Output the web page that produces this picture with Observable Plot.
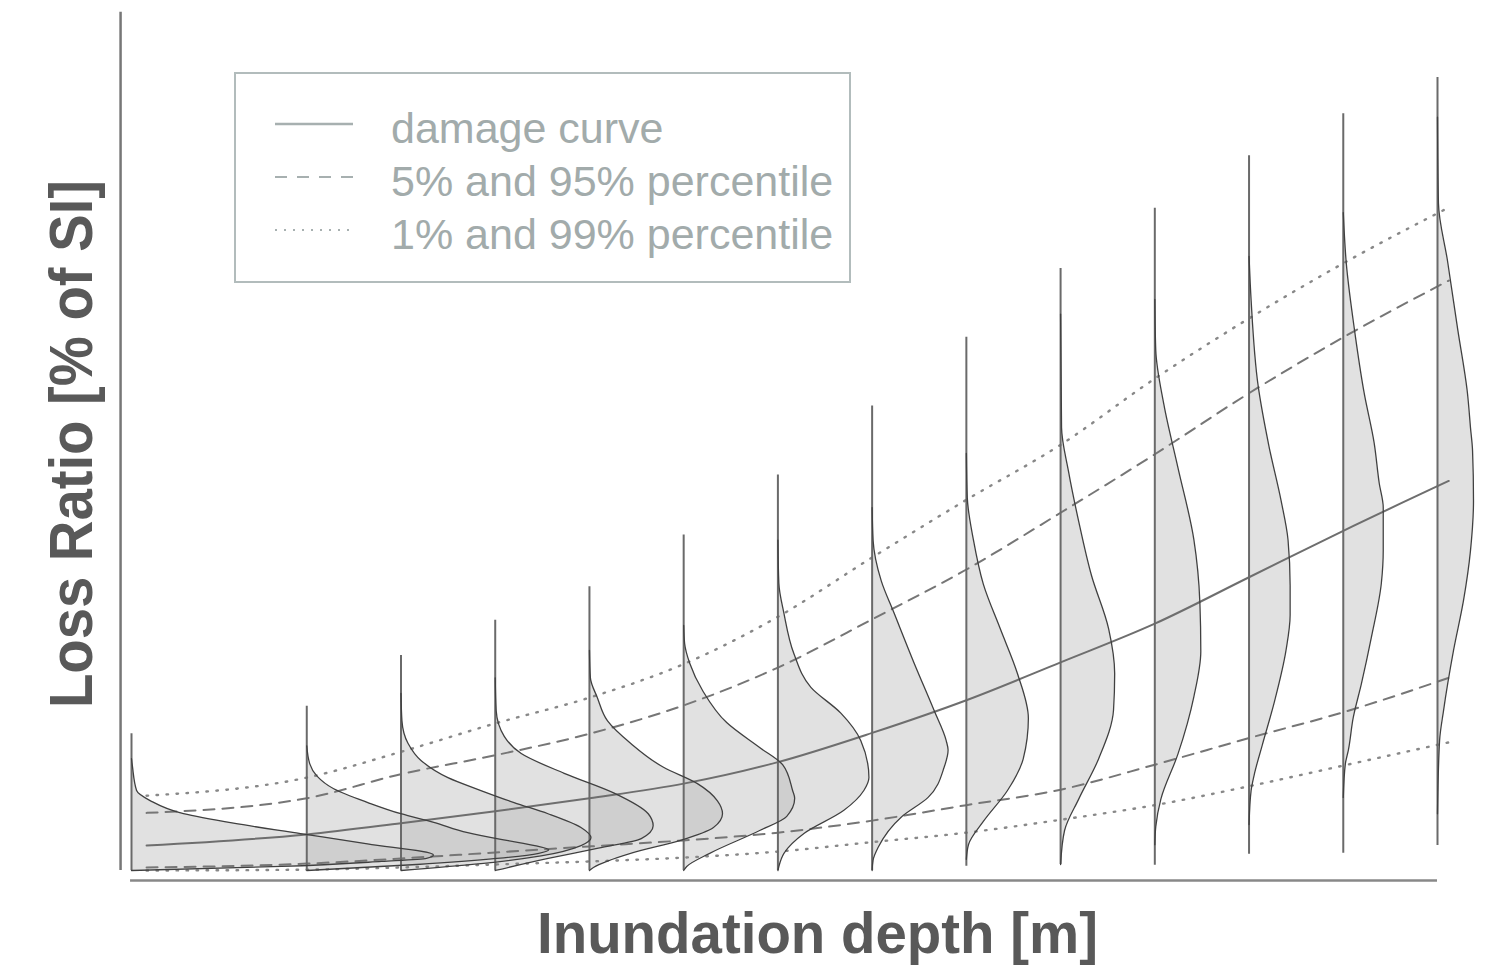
<!DOCTYPE html>
<html>
<head>
<meta charset="utf-8">
<script src="https://cdn.jsdelivr.net/npm/d3@7"></script>
<script src="https://cdn.jsdelivr.net/npm/@observablehq/plot@0.6"></script>
<style>
html, body { margin: 0; padding: 0; background: #fff; overflow: hidden; }
#chart { width: 1486px; height: 968px; }
#chart svg { display: block; }
</style>
</head>
<body>
<div id="chart"></div>
<script>
// ---- data ----
// inundation depths (m) at which a loss distribution is drawn
const depths = [0.07, 1.0, 1.5, 2.0, 2.5, 3.0, 3.5, 4.0, 4.5, 5.0, 5.5, 6.0, 6.5, 7.0];
// extent of each distribution's stem (loss ratio %)
const stemTop = [15.9, 19.1, 25.0, 29.1, 33.0, 39.0, 46.0, 54.0, 62.0, 70.0, 77.0, 83.1, 88.0, 92.2];
const stemBottom = [0, 0, 0, 0, 0, 0, 0, 0, 0.5, 0.7, 0.6, 1.9, 2.0, 2.9];

// density profiles: [loss ratio %, density width (in depth units)]
const dens01 = [[13.0,0],[12.1,0.005],[9.3,0.027],[8.1,0.101],[6.6,0.276],[5.5,0.541],[4.3,0.897],[3.1,1.252],[1.8,1.602],[1.4,1.565],[1.05,1.327],[0.47,0.796],[0,0]];
const dens02 = [[14.5,0],[12.4,0.016],[11.0,0.053],[9.5,0.143],[7.9,0.324],[6.6,0.499],[5.6,0.674],[4.4,0.854],[3.5,1.061],[2.9,1.210],[2.4,1.284],[2.0,1.231],[1.4,1.008],[0.7,0.584],[0,0]];
const dens03 = [[20.6,0],[17.4,0.005],[14.8,0.037],[12.8,0.106],[10.8,0.249],[9.3,0.424],[7.9,0.600],[6.6,0.780],[5.0,0.955],[3.8,1.008],[2.9,0.955],[1.7,0.743],[0.8,0.424],[0,0]];
const dens04 = [[22.4,0],[18.6,0.005],[15.6,0.048],[13.6,0.138],[11.3,0.366],[9.0,0.631],[6.6,0.812],[5.2,0.838],[3.7,0.775],[2.6,0.547],[1.4,0.281],[0,0]];
const dens05 = [[25.6,0],[22.4,0.005],[20.1,0.042],[17.4,0.096],[14.8,0.218],[12.0,0.393],[10.1,0.573],[8.1,0.679],[6.6,0.706],[5.0,0.658],[3.5,0.483],[2.0,0.218],[0.35,0.021],[0,0]];
const dens06 = [[28.5,0],[26.4,0.005],[24.1,0.032],[20.9,0.101],[17.2,0.228],[14.3,0.403],[12.3,0.525],[9.3,0.578],[8.4,0.589],[6.3,0.547],[4.65,0.403],[2.0,0.138],[0.47,0.016],[0,0]];
const dens07 = [[38.4,0],[33.4,0.005],[29.9,0.032],[25.2,0.085],[21.3,0.175],[18.3,0.334],[15.1,0.440],[10.8,0.483],[9.3,0.456],[7.0,0.350],[4.3,0.138],[2.0,0.032],[0.47,0.005],[0,0]];
const dens08 = [[42.2,0],[38.4,0.005],[33.7,0.048],[29.9,0.117],[24.1,0.223],[18.6,0.329],[15.1,0.393],[14.0,0.403],[12.0,0.382],[8.5,0.297],[6.2,0.154],[2.7,0.032],[1.2,0.005],[0,0]];
const dens09 = [[48.5,0],[43.3,0.005],[38.5,0.037],[33.3,0.090],[28.1,0.180],[22.9,0.271],[17.7,0.329],[13.0,0.302],[9.3,0.218],[5.7,0.090],[3.0,0.011],[1.3,0]];
const dens10 = [[64.7,0],[51.5,0.005],[46.4,0.042],[40.6,0.096],[34.3,0.164],[28.1,0.255],[22.9,0.287],[18.7,0.281],[13.0,0.202],[8.3,0.096],[4.65,0.021],[0.7,0]];
const dens11 = [[66.4,0],[60.5,0.005],[54.2,0.048],[46.9,0.122],[38.5,0.207],[31.2,0.239],[25.5,0.244],[20.2,0.207],[13.5,0.122],[8.3,0.032],[5.1,0.005],[3.0,0]];
const dens12 = [[71.4,0],[66.3,0.011],[56.4,0.048],[49.3,0.106],[43.0,0.170],[38.4,0.207],[33.1,0.218],[29.7,0.218],[25.6,0.196],[19.5,0.133],[14.5,0.069],[11.1,0.027],[9.3,0.011],[5.35,0]];
const dens13 = [[76.5,0],[70.6,0.016],[63.1,0.058],[55.5,0.111],[49.7,0.164],[45.0,0.191],[42.2,0.212],[37.2,0.212],[33.4,0.202],[27.1,0.149],[21.7,0.096],[17.8,0.053],[14.0,0.027],[12.4,0.011],[8.5,0]];
const dens14 = [[87.6,0],[77.6,0.005],[70.9,0.053],[63.1,0.106],[55.5,0.159],[51.5,0.175],[48.8,0.186],[43.0,0.191],[37.2,0.175],[31.4,0.138],[25.6,0.085],[18.6,0.032],[15.1,0.011],[6.6,0]];

// damage curve and percentile curves
const curveDepth  = [0.15, 1.0, 1.5, 2.0, 2.5, 3.0, 3.5, 4.0, 4.5, 5.0, 5.5, 6.0, 6.5, 7.06];
const damageCurve = [2.9, 4.2, 5.5, 6.9, 8.4, 10.1, 12.6, 16.0, 19.8, 24.2, 28.7, 34.1, 39.5, 45.3];
const q95 = [6.7, 8.4, 11.2, 13.4, 15.9, 19.2, 23.6, 29.2, 35.0, 41.6, 48.4, 55.5, 62.0, 68.6];
const q99 = [8.7, 10.8, 13.8, 17.1, 20.1, 24.0, 29.5, 36.4, 43.1, 49.5, 57.2, 64.2, 70.6, 77.1];
const q05 = [0.35, 0.8, 1.4, 2.1, 2.8, 3.5, 4.4, 5.8, 7.6, 9.4, 12.3, 15.4, 18.4, 22.4];
const q01 = [0.0, 0.1, 0.35, 0.7, 1.05, 1.5, 2.2, 3.3, 4.4, 5.9, 7.6, 9.8, 12.2, 14.9];

const legendLabels = ["damage curve", "5% and 95% percentile", "1% and 99% percentile"];
const xTitle = "Inundation depth [m]";
const yTitle = "Loss Ratio [% of SI]";

// ---- build tables ----
const profiles = [dens01, dens02, dens03, dens04, dens05, dens06, dens07, dens08, dens09, dens10, dens11, dens12, dens13, dens14];
const densityRows = profiles.flatMap((p, i) => p.map(([loss, w]) => ({dist: i, depth: depths[i], loss, w, edge: depths[i] + w})));
const stems = depths.map((d, i) => ({depth: d, top: stemTop[i], bottom: stemBottom[i]}));
const curveRows = curveDepth.map((d, i) => ({depth: d, mean: damageCurve[i], q95: q95[i], q99: q99[i], q05: q05[i], q01: q01[i]}));

const yAxisAt = [0.012];      // position of the vertical axis line (depth units)
const xAxisAt = [-1.16];      // position of the horizontal axis line (loss units)

const dashed = {stroke: "#767676", strokeWidth: 2, strokeDasharray: "11,8", curve: "monotone-x"};
const dotted = {stroke: "#888888", strokeWidth: 2.4, strokeDasharray: "1.5,8.5", strokeLinecap: "round", curve: "monotone-x"};

const svgEl = Plot.plot({
  width: 1486,
  height: 968,
  marginLeft: 131,
  marginRight: 49,
  marginTop: 10,
  marginBottom: 98,
  x: {domain: [0.07, 7.0], axis: null},
  y: {domain: [0, 100], axis: null},
  marks: [
    Plot.ruleX(yAxisAt, {y1: 0, y2: 99.8, stroke: "#777", strokeWidth: 2.5}),
    Plot.ruleY(xAxisAt, {x1: 0.065, x2: 7.0, stroke: "#888", strokeWidth: 2.5}),
    Plot.areaX(densityRows, {y: "loss", x1: "depth", x2: "edge", z: "dist", fill: "#b8b8b8", fillOpacity: 0.42, curve: "monotone-y"}),
    Plot.line(curveRows, {x: "depth", y: "q99", ...dotted}),
    Plot.line(curveRows, {x: "depth", y: "q01", ...dotted}),
    Plot.line(curveRows, {x: "depth", y: "q95", ...dashed}),
    Plot.line(curveRows, {x: "depth", y: "q05", ...dashed}),
    Plot.line(curveRows, {x: "depth", y: "mean", stroke: "#6e6e6e", strokeWidth: 2, curve: "monotone-x"}),
    Plot.ruleX(stems, {x: "depth", y1: "bottom", y2: "top", stroke: "#6a6a6a", strokeWidth: 2}),
    Plot.line(densityRows, {x: "edge", y: "loss", z: "dist", stroke: "#404040", strokeWidth: 1.3, curve: "monotone-y"})
  ]
});
document.getElementById("chart").appendChild(svgEl);

// ---- legend and axis titles ----
const svg = d3.select(svgEl);
const font = "'Liberation Sans', Arial, Helvetica, sans-serif";
const lg = svg.append("g").attr("text-anchor", "start");
lg.append("rect").attr("x", 235).attr("y", 73).attr("width", 615).attr("height", 209)
  .attr("fill", "white").attr("stroke", "#b2bcbc").attr("stroke-width", 2);
const swatch = [
  {dash: null, width: 2.5},
  {dash: "12,10", width: 2},
  {dash: "2,7", width: 2}
];
legendLabels.forEach((label, i) => {
  const cy = 124 + i * 53;
  const ln = lg.append("line").attr("x1", 275).attr("x2", 353).attr("y1", cy).attr("y2", cy)
    .attr("stroke", "#a7b0b0").attr("stroke-width", swatch[i].width);
  if (swatch[i].dash) ln.attr("stroke-dasharray", swatch[i].dash);
  lg.append("text").attr("x", 391).attr("y", cy + 18.5)
    .attr("text-anchor", "start")
    .attr("font-family", font).attr("font-size", 43).attr("fill", "#a2abab")
    .text(label);
});

svg.append("text")
  .attr("x", 817.5).attr("y", 953)
  .attr("text-anchor", "middle")
  .attr("font-family", font).attr("font-weight", "bold").attr("font-size", 58)
  .attr("fill", "#595959")
  .attr("textLength", 561).attr("lengthAdjust", "spacingAndGlyphs")
  .text(xTitle);

svg.append("text")
  .attr("transform", "translate(92,444) rotate(-90)")
  .attr("x", 0).attr("y", 0)
  .attr("text-anchor", "middle")
  .attr("font-family", font).attr("font-weight", "bold").attr("font-size", 62)
  .attr("fill", "#595959")
  .attr("textLength", 528).attr("lengthAdjust", "spacingAndGlyphs")
  .text(yTitle);
</script>
</body>
</html>
